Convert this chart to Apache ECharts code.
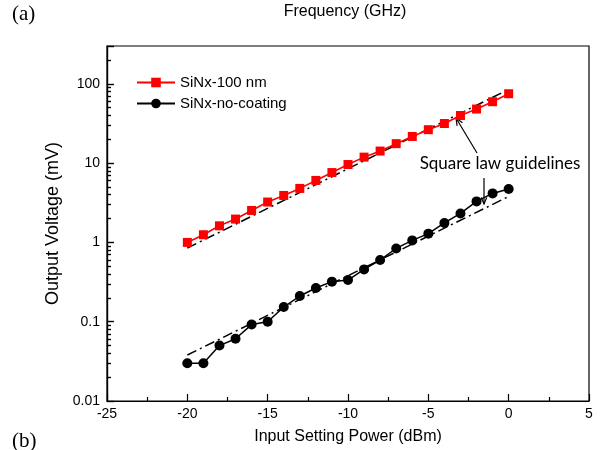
<!DOCTYPE html>
<html><head><meta charset="utf-8">
<script src="https://cdn.jsdelivr.net/npm/echarts@6/dist/echarts.min.js"></script>
<style>html,body{margin:0;padding:0;background:#fff}#c{width:603px;height:450px}</style>
</head><body><div id="c"></div>
<script>
// ---- data ----
const inputPower = [-20,-19,-18,-17,-16,-15,-14,-13,-12,-11,-10,-9,-8,-7,-6,-5,-4,-3,-2,-1,0];
const sinx100 = [1.0,1.25,1.62,1.97,2.53,3.23,3.91,4.8,6.05,7.6,9.6,11.9,14.2,17.6,21.7,26.4,31.6,39.9,48.1,59.5,75];
const sinxNoCoating = [0.030,0.030,0.050,0.061,0.092,0.100,0.153,0.211,0.266,0.32,0.335,0.457,0.60,0.84,1.06,1.29,1.76,2.32,3.29,4.15,4.71];
const guideX = [-20, 0];
const guideUpper = [0.85, 85];
const guideLower = [0.038, 3.8];
const seriesNames = ['SiNx-100 nm', 'SiNx-no-coating'];
const yMin = 0.01, yMax = 300;
const xMin = -25, xMax = 5, xInterval = 5;

const zip = (xs, ys) => xs.map((x, i) => [x, ys[i]]);

function arrowHead(tx, ty, fx, fy, len, ang) {
  const dx = tx - fx, dy = ty - fy, L = Math.hypot(dx, dy);
  const ux = dx / L, uy = dy / L;
  const pts = [];
  [ang, -ang].forEach(a => {
    const c = Math.cos(a), s = Math.sin(a);
    const rx = -(ux * c - uy * s), ry = -(ux * s + uy * c);
    pts.push([tx + rx * len, ty + ry * len]);
  });
  return {type: 'polyline', shape: {points: [pts[0], [tx, ty], pts[1]]}, style: {stroke: '#000', lineWidth: 1.2, fill: null}};
}

const chart = echarts.init(document.getElementById('c'));
const font = 'Liberation Sans, Arial, sans-serif';
chart.setOption({
  animation: false,
  backgroundColor: '#fff',
  grid: {left: 107, right: 14, top: 46, bottom: 49, show: true, borderColor: '#000', borderWidth: 1.2},
  legend: {
    data: seriesNames, orient: 'vertical', left: 131, top: 70, itemWidth: 38, itemHeight: 12, itemGap: 6,
    textStyle: {fontFamily: font, fontSize: 15, color: '#000'}
  },
  xAxis: {
    type: 'value', min: xMin, max: xMax, interval: xInterval,
    name: 'Input Setting Power (dBm)', nameLocation: 'middle', nameGap: 28,
    nameTextStyle: {fontFamily: font, fontSize: 16, color: '#000'},
    axisLine: {show: true, onZero: false, lineStyle: {color: '#000', width: 1.2}},
    axisTick: {show: true, inside: true, length: 7, lineStyle: {color: '#000', width: 1.2}},
    minorTick: {show: true, splitNumber: 2, length: 4, lineStyle: {color: '#000', width: 1.2}},
    axisLabel: {fontFamily: font, fontSize: 14, color: '#000', margin: 6},
    splitLine: {show: false}
  },
  yAxis: [
    {
      type: 'log', min: yMin, max: yMax, interval: 1,
      name: 'Output Voltage (mV)', nameLocation: 'middle', nameGap: 32,
      nameTextStyle: {fontFamily: font, fontSize: 18, color: '#000'},
      axisLine: {show: true, onZero: false, lineStyle: {color: '#000', width: 1.2}},
      axisTick: {show: true, inside: true, length: 7, lineStyle: {color: '#000', width: 1.2}},
      minorTick: {show: true, splitNumber: 9, length: 4, lineStyle: {color: '#000', width: 1.2}},
      axisLabel: {fontFamily: font, fontSize: 14, color: '#000', margin: 7,
        formatter: v => (+v > 250 ? '' : String(+(+v).toPrecision(3)))},
      splitLine: {show: false}
    },
    {
      type: 'log', min: yMin, max: yMax, interval: 1, position: 'left',
      axisLine: {show: true, onZero: false, lineStyle: {color: '#000', width: 1.2}},
      axisTick: {show: true, inside: true, length: 7, lineStyle: {color: '#000', width: 1.2}},
      minorTick: {show: true, splitNumber: 9, length: 4, lineStyle: {color: '#000', width: 1.2}},
      axisLabel: {show: true, color: 'rgba(0,0,0,0)'},
      splitLine: {show: false}
    }
  ],
  series: [
    {name: 'guideUpper', type: 'line', data: zip(guideX, guideUpper), symbol: 'none', silent: true,
     lineStyle: {color: '#000', width: 1.5, type: [10, 4, 2, 4]}, z: 3},
    {name: 'guideLower', type: 'line', data: zip(guideX, guideLower), symbol: 'none', silent: true,
     lineStyle: {color: '#000', width: 1.5, type: [10, 4, 2, 4]}, z: 3},
    {name: seriesNames[0], type: 'line', data: zip(inputPower, sinx100), symbol: 'rect', symbolSize: 9,
     itemStyle: {color: '#ff0000'}, lineStyle: {color: '#ff0000', width: 1.6}, z: 4},
    {name: seriesNames[1], type: 'line', data: zip(inputPower, sinxNoCoating), symbol: 'circle', symbolSize: 10,
     itemStyle: {color: '#000'}, lineStyle: {color: '#000', width: 1.5}, z: 4}
  ],
  graphic: [
    {type: 'text', left: 12, top: 4, style: {text: '(a)', font: '21px "Liberation Serif", serif', fill: '#000'}},
    {type: 'text', x: 345, y: 12, style: {text: 'Frequency (GHz)', font: '16px "Liberation Sans", Arial', fill: '#000', align: 'center', verticalAlign: 'middle'}},
    {type: 'text', left: 12, top: 431, style: {text: '(b)', font: '21px "Liberation Serif", serif', fill: '#000'}},
    {type: 'text', x: 500, y: 164, style: {text: 'Square law guidelines', font: '17px Lato, "Open Sans", sans-serif', fill: '#000', align: 'center', verticalAlign: 'middle'}},
    {type: 'line', shape: {x1: 477, y1: 153, x2: 456, y2: 118}, style: {stroke: '#000', lineWidth: 1.2}},
    arrowHead(456, 118, 477, 153, 8, 0.4),
    {type: 'line', shape: {x1: 484, y1: 178, x2: 484, y2: 204}, style: {stroke: '#000', lineWidth: 1.2}},
    arrowHead(484, 204, 484, 178, 7, 0.4)
  ]
});
</script></body></html>
